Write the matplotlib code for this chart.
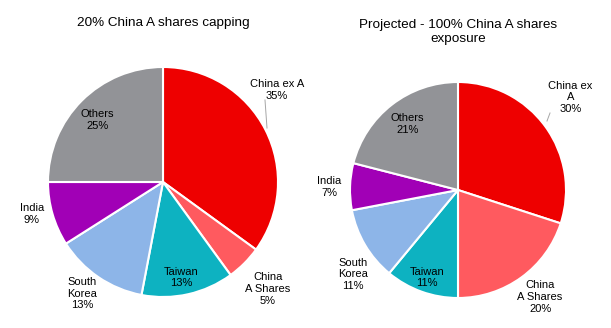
import matplotlib
matplotlib.use("Agg")
from matplotlib import pyplot as plt

plt.rcParams['font.family'] = ['Liberation Sans', 'DejaVu Sans']

# data
capped = [35, 5, 13, 13, 9, 25]
projected = [30, 20, 11, 11, 7, 21]
titles = ["20% China A shares capping",
          "Projected - 100% China A shares\nexposure"]
colors = ["#EE0000", "#FF5A5F", "#0DB2C1", "#8DB5E8", "#A100B6", "#929397"]

# label names differ slightly on the right chart
names_left = ["China ex A", "China\nA Shares", "Taiwan", "South\nKorea", "India", "Others"]
names_right = ["China ex\nA", "China\nA Shares", "Taiwan", "South\nKorea", "India", "Others"]

# label offsets in units of the radius (x, y from pie centre)
pos_left = [(0.99, 0.80), (0.91, -0.93), (0.16, -0.83),
            (-0.70, -0.97), (-1.14, -0.28), (-0.57, 0.54)]
pos_right = [(1.04, 0.86), (0.76, -0.99), (-0.29, -0.81),
             (-0.97, -0.78), (-1.19, 0.03), (-0.47, 0.61)]

W, H = 611, 328
fig = plt.figure(figsize=(W / 100, H / 100), dpi=100)
ax = fig.add_axes([0, 0, 1, 1])

pies = [
    dict(vals=capped, names=names_left, pos=pos_left, c=(163, H - 182), r=115,
         title_y=H - 23),
    dict(vals=projected, names=names_right, pos=pos_right, c=(458, H - 190), r=108,
         title_y=H - 32),
]

for i, p in enumerate(pies):
    cx, cy = p['c']
    r = p['r']
    ax.pie(p['vals'], colors=colors, startangle=90, counterclock=False,
           center=(cx, cy), radius=r, frame=True,
           wedgeprops=dict(edgecolor='white', linewidth=1.5))
    for name, v, (dx, dy) in zip(p['names'], p['vals'], p['pos']):
        ax.text(cx + dx * r, cy + dy * r, f"{name}\n{v}%", ha='center',
                va='center', fontsize=8, color='black', linespacing=1.2)
    ax.text(cx, p['title_y'], titles[i], ha='center', va='center',
            fontsize=9.7, linespacing=1.2)

# small leader lines as in the original
ax.plot([265, 267], [H - 100, H - 128], color='#A6A6A6', lw=0.7)
ax.plot([550, 547], [H - 113, H - 121], color='#A6A6A6', lw=0.7)

ax.set_xlim(0, W)
ax.set_ylim(0, H)
ax.set_aspect('equal')
ax.axis('off')

fig.savefig("out.png", dpi=100)
